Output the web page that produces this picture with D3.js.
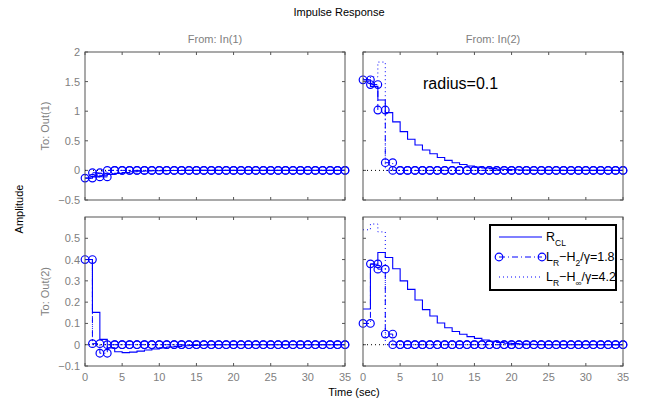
<!DOCTYPE html>
<html>
<head>
<meta charset="utf-8">
<script src="https://cdn.jsdelivr.net/npm/d3@7"></script>
<style>
  body { margin: 0; background: #fff; }
  svg text { font-family: "Liberation Sans", Arial, Helvetica, sans-serif; }
</style>
</head>
<body>
<svg id="chart" width="649" height="402"></svg>
<script>
// sample times 0..35 (T = 1 s)
const timeTicks = [0, 5, 10, 15, 20, 25, 30, 35];
const ticksOut1 = [-0.5, 0, 0.5, 1, 1.5, 2];
const ticksOut2 = [-0.1, 0, 0.1, 0.2, 0.3, 0.4, 0.5];
const inputNames = ['From: In(1)', 'From: In(2)'];
const outputNames = ['To: Out(1)', 'To: Out(2)'];

// Out(1) <- In(1)
const rcl11 = [-0.13, -0.11, -0.09, -0.07, -0.05, -0.035, -0.024, -0.015, -0.009, -0.005, -0.003, -0.002, -0.001, 0, 0, 0, 0, 0, 0, 0, 0, 0, 0, 0, 0, 0, 0, 0, 0, 0, 0, 0, 0, 0, 0, 0];
const h2_11 = [-0.13, -0.04, -0.11, 0, 0, 0, 0, 0, 0, 0, 0, 0, 0, 0, 0, 0, 0, 0, 0, 0, 0, 0, 0, 0, 0, 0, 0, 0, 0, 0, 0, 0, 0, 0, 0, 0];
const hinf11 = [-0.08, -0.05, -0.02, 0, 0, 0, 0, 0, 0, 0, 0, 0, 0, 0, 0, 0, 0, 0, 0, 0, 0, 0, 0, 0, 0, 0, 0, 0, 0, 0, 0, 0, 0, 0, 0, 0];
// Out(1) <- In(2)
const rcl12 = [1.53, 1.42, 1.19, 0.976, 0.82, 0.655, 0.526, 0.43, 0.345, 0.28, 0.218, 0.17, 0.13, 0.1, 0.075, 0.055, 0.04, 0.03, 0.02, 0.014, 0.01, 0.006, 0.004, 0.002, 0.001, 0, 0, 0, 0, 0, 0, 0, 0, 0, 0, 0];
const h2_12 = [1.53, 1.45, 1.02, 0.13, 0, 0, 0, 0, 0, 0, 0, 0, 0, 0, 0, 0, 0, 0, 0, 0, 0, 0, 0, 0, 0, 0, 0, 0, 0, 0, 0, 0, 0, 0, 0, 0];
const hinf12 = [1.55, 1.58, 1.83, 0, 0, 0, 0, 0, 0, 0, 0, 0, 0, 0, 0, 0, 0, 0, 0, 0, 0, 0, 0, 0, 0, 0, 0, 0, 0, 0, 0, 0, 0, 0, 0, 0];
// Out(2) <- In(1)
const rcl21 = [0.4, 0.152, 0.025, -0.015, -0.033, -0.037, -0.035, -0.03, -0.025, -0.02, -0.015, -0.011, -0.008, -0.005, -0.003, -0.002, -0.001, 0, 0, 0, 0, 0, 0, 0, 0, 0, 0, 0, 0, 0, 0, 0, 0, 0, 0, 0];
const h2_21 = [0.4, 0.005, -0.04, 0, 0, 0, 0, 0, 0, 0, 0, 0, 0, 0, 0, 0, 0, 0, 0, 0, 0, 0, 0, 0, 0, 0, 0, 0, 0, 0, 0, 0, 0, 0, 0, 0];
const hinf21 = [0.4, 0, 0, 0, 0, 0, 0, 0, 0, 0, 0, 0, 0, 0, 0, 0, 0, 0, 0, 0, 0, 0, 0, 0, 0, 0, 0, 0, 0, 0, 0, 0, 0, 0, 0, 0];
// Out(2) <- In(2)
const rcl22 = [0.168, 0.378, 0.433, 0.41, 0.357, 0.3, 0.26, 0.21, 0.165, 0.135, 0.102, 0.08, 0.062, 0.049, 0.038, 0.03, 0.022, 0.016, 0.011, 0.007, 0.005, 0.003, 0.002, 0.001, 0, 0, 0, 0, 0, 0, 0, 0, 0, 0, 0, 0];
const h2_22 = [0.1, 0.38, 0.355, 0.05, 0, 0, 0, 0, 0, 0, 0, 0, 0, 0, 0, 0, 0, 0, 0, 0, 0, 0, 0, 0, 0, 0, 0, 0, 0, 0, 0, 0, 0, 0, 0, 0];
const hinf22 = [0.54, 0.567, 0.53, 0, 0, 0, 0, 0, 0, 0, 0, 0, 0, 0, 0, 0, 0, 0, 0, 0, 0, 0, 0, 0, 0, 0, 0, 0, 0, 0, 0, 0, 0, 0, 0, 0];

const panels = [
  { row: 0, col: 0, yDomain: [-0.5, 2], yTicks: ticksOut1, rcl: rcl11, h2: h2_11, hinf: hinf11 },
  { row: 0, col: 1, yDomain: [-0.5, 2], yTicks: ticksOut1, rcl: rcl12, h2: h2_12, hinf: hinf12 },
  { row: 1, col: 0, yDomain: [-0.1, 0.6], yTicks: ticksOut2, rcl: rcl21, h2: h2_21, hinf: hinf21 },
  { row: 1, col: 1, yDomain: [-0.1, 0.6], yTicks: ticksOut2, rcl: rcl22, h2: h2_22, hinf: hinf22 }
];

const BLUE = '#0000ff';
const AXIS = '#555';
const LABEL = '#808080';
const colX = [[85, 345], [363, 623]];
const rowY = [[52, 200], [217, 366]];

const svg = d3.select('#chart');
const fmt = v => (v < 0 ? '\u2212' : '') + Math.abs(v);

function stairs(vals) {
  const pts = [];
  vals.forEach((v, i) => {
    pts.push([i, v]);
    if (i < vals.length - 1) pts.push([i + 1, v]);
  });
  return pts;
}

panels.forEach(p => {
  const [x0, x1] = colX[p.col];
  const [y0, y1] = rowY[p.row];
  const x = d3.scaleLinear().domain([0, 35]).range([x0, x1]);
  const y = d3.scaleLinear().domain(p.yDomain).range([y1, y0]);
  const g = svg.append('g');

  const clipId = `clip-${p.row}-${p.col}`;
  g.append('clipPath').attr('id', clipId)
    .append('rect').attr('x', x0 - 6).attr('y', y0).attr('width', x1 - x0 + 12).attr('height', y1 - y0);

  // ticks (inward, all four sides)
  const tk = 3;
  timeTicks.forEach(t => {
    g.append('line').attr('x1', x(t)).attr('x2', x(t)).attr('y1', y1).attr('y2', y1 - tk).attr('stroke', AXIS);
    g.append('line').attr('x1', x(t)).attr('x2', x(t)).attr('y1', y0).attr('y2', y0 + tk).attr('stroke', AXIS);
  });
  p.yTicks.forEach(v => {
    g.append('line').attr('x1', x0).attr('x2', x0 + tk).attr('y1', y(v)).attr('y2', y(v)).attr('stroke', AXIS);
    g.append('line').attr('x1', x1).attr('x2', x1 - tk).attr('y1', y(v)).attr('y2', y(v)).attr('stroke', AXIS);
  });

  // tick labels
  if (p.col === 0) {
    g.selectAll('.ylab').data(p.yTicks).join('text')
      .attr('x', x0 - 5).attr('y', d => y(d) + 4)
      .attr('text-anchor', 'end').attr('font-size', 11).attr('fill', LABEL)
      .text(fmt);
  }
  if (p.row === 1) {
    g.selectAll('.xlab').data(timeTicks).join('text')
      .attr('x', d => x(d)).attr('y', 381)
      .attr('text-anchor', 'middle').attr('font-size', 11).attr('fill', LABEL)
      .text(d => d);
  }

  const plot = g.append('g').attr('clip-path', `url(#${clipId})`);
  const line = d3.line().x(d => x(d[0])).y(d => y(d[1]));

  // zero reference line
  plot.append('line').attr('x1', x(0)).attr('x2', x(35)).attr('y1', y(0)).attr('y2', y(0))
    .attr('stroke', '#000').attr('stroke-width', 1).attr('stroke-dasharray', '1,3');

  plot.append('path').datum(stairs(p.rcl)).attr('d', line)
    .attr('fill', 'none').attr('stroke', BLUE).attr('stroke-width', 1.1);
  plot.append('path').datum(stairs(p.hinf)).attr('d', line)
    .attr('fill', 'none').attr('stroke', BLUE).attr('stroke-width', 1).attr('stroke-dasharray', '1,3');
  const h2pts = stairs(p.h2);
  plot.append('path').datum(h2pts).attr('d', line)
    .attr('fill', 'none').attr('stroke', BLUE).attr('stroke-width', 1).attr('stroke-dasharray', '6,3,1,3');
  plot.selectAll('circle').data(h2pts).join('circle')
    .attr('cx', d => x(d[0])).attr('cy', d => y(d[1])).attr('r', 3.8)
    .attr('fill', 'none').attr('stroke', BLUE).attr('stroke-width', 1.2);

  // frame
  g.append('rect').attr('x', x0).attr('y', y0).attr('width', x1 - x0).attr('height', y1 - y0)
    .attr('fill', 'none').attr('stroke', AXIS).attr('stroke-width', 1);

  if (p.row === 0) {
    svg.append('text').attr('x', (x0 + x1) / 2).attr('y', 43)
      .attr('text-anchor', 'middle').attr('font-size', 11).attr('fill', LABEL)
      .text(inputNames[p.col]);
  }
  if (p.col === 0) {
    svg.append('text').attr('transform', `translate(49,${(y0 + y1) / 2}) rotate(-90)`)
      .attr('text-anchor', 'middle').attr('font-size', 11).attr('fill', LABEL)
      .text(outputNames[p.row]);
  }
});

svg.append('text').attr('x', 339).attr('y', 16).attr('text-anchor', 'middle')
  .attr('font-size', 11).attr('fill', '#000').text('Impulse Response');
svg.append('text').attr('x', 354).attr('y', 396).attr('text-anchor', 'middle')
  .attr('font-size', 11).attr('fill', '#000').text('Time (sec)');
svg.append('text').attr('transform', 'translate(23,209) rotate(-90)').attr('text-anchor', 'middle')
  .attr('font-size', 11).attr('fill', '#000').text('Amplitude');
svg.append('text').attr('x', 423).attr('y', 89)
  .attr('font-size', 16).attr('fill', '#000').text('radius=0.1');

// legend
const leg = svg.append('g');
leg.append('rect').attr('x', 490).attr('y', 225).attr('width', 126).attr('height', 65)
  .attr('fill', '#fff').attr('stroke', '#000').attr('stroke-width', 2);
const legY = [237, 257, 277];
leg.append('line').attr('x1', 499).attr('x2', 542).attr('y1', legY[0]).attr('y2', legY[0])
  .attr('stroke', BLUE).attr('stroke-width', 1.1);
leg.append('line').attr('x1', 499).attr('x2', 542).attr('y1', legY[1]).attr('y2', legY[1])
  .attr('stroke', BLUE).attr('stroke-width', 1).attr('stroke-dasharray', '6,3,1,3');
[499, 542].forEach(cx => leg.append('circle').attr('cx', cx).attr('cy', legY[1]).attr('r', 3.8)
  .attr('fill', 'none').attr('stroke', BLUE).attr('stroke-width', 1.2));
leg.append('line').attr('x1', 499).attr('x2', 542).attr('y1', legY[2]).attr('y2', legY[2])
  .attr('stroke', BLUE).attr('stroke-width', 1).attr('stroke-dasharray', '1,3');

function legText(yy, parts) {
  const t = leg.append('text').attr('x', 546).attr('y', yy + 4).attr('font-size', 12.5).attr('fill', '#000');
  let inSub = false;
  parts.forEach(([s, sub]) => {
    const ts = t.append('tspan').text(s);
    if (sub && !inSub) ts.attr('font-size', 8.5).attr('dy', 5);
    else if (sub) ts.attr('font-size', 8.5);
    else if (inSub) ts.attr('dy', -5);
    inSub = !!sub;
  });
}
legText(legY[0], [['R'], ['CL', true]]);
legText(legY[1], [['L'], ['R', true], ['\u2212H'], ['2', true], ['/\u03b3=1.8']]);
legText(legY[2], [['L'], ['R', true], ['\u2212H'], ['\u221e', true], ['/\u03b3=4.2']]);
</script>
</body>
</html>
